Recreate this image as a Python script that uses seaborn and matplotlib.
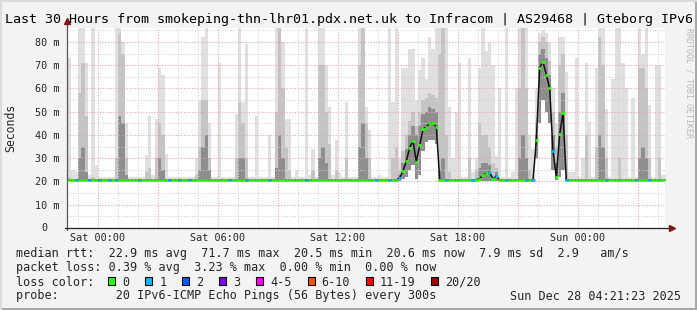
import numpy as np
import pandas as pd
import matplotlib
matplotlib.use("Agg")
import matplotlib.pyplot as plt
import seaborn as sns
from matplotlib.patches import Rectangle
from matplotlib.lines import Line2D

# ---------------- data (10-minute steps, hours relative to Sat 00:00) ----------------
STEP_H = 1 / 6
START_H = -1.5

# median RTT (ms)
median_ms = [
    20.6, 20.6, 20.6, 20.6, 20.6, 20.6,
    20.6, 20.6, 20.6, 20.6, 20.6, 20.6,
    20.6, 20.6, 20.6, 20.6, 20.6, 20.6,
    20.6, 20.6, 20.6, 20.6, 20.6, 20.6,
    20.6, 20.6, 20.6, 20.6, 20.6, 20.6,
    20.6, 20.6, 20.6, 20.6, 20.6, 20.6,
    20.6, 20.6, 20.6, 20.6, 20.6, 20.6,
    20.6, 20.6, 20.6, 20.6, 20.6, 20.6,
    20.6, 20.6, 20.6, 20.6, 20.6, 20.6,
    20.6, 20.6, 20.6, 20.6, 20.6, 20.6,
    20.6, 20.6, 20.6, 20.6, 20.6, 20.6,
    20.6, 20.6, 20.6, 20.6, 20.6, 20.6,
    20.6, 20.6, 20.6, 20.6, 20.6, 20.6,
    20.6, 20.6, 20.6, 20.6, 20.6, 20.6,
    20.6, 20.6, 20.6, 20.6, 20.6, 20.6,
    20.6, 20.6, 20.6, 20.6, 20.6, 20.6,
    20.6, 20.6, 20.6, 21.6, 24.5, 28.8,
    34.5, 37.5, 28.5, 35.5, 42.5, 43.5,
    45.0, 45.0, 43.5, 20.8, 20.6, 20.6,
    20.6, 20.6, 20.6, 20.6, 20.6, 20.6,
    20.6, 20.6, 20.8, 21.2, 22.8, 23.5,
    24.0, 21.0, 22.5, 20.6, 20.6, 20.6,
    20.6, 20.6, 20.6, 20.6, 20.6, 20.6,
    20.6, 20.6, 37.7, 69.0, 71.4, 66.0,
    60.0, 33.0, 22.0, 40.3, 49.4, 20.6,
    20.6, 20.6, 20.6, 20.6, 20.6, 20.6,
    20.6, 20.6, 20.6, 20.6, 20.6, 20.6,
    20.6, 20.6, 20.6, 20.6, 20.6, 20.6,
    20.6, 20.6, 20.6, 20.6, 20.6, 20.6,
    20.6, 20.6, 20.6, 20.6, 20.6, 20.6,
]

# smoke: highest ping (light grey top)
smoke_top = [
    73, 25, 24, 86, 86, 71,
    23, 86, 27, 22, 22, 21.8,
    22, 21.8, 86, 86, 80, 45,
    22, 22, 22, 22, 21.8, 31.5,
    48, 23, 47, 69, 66, 32,
    21.8, 21.8, 21.8, 21.8, 22, 21.8,
    21.8, 21.8, 30, 55, 82, 86,
    45, 21.8, 21.8, 71, 21.8, 21.8,
    21.8, 21.8, 49, 86, 54, 79,
    21.8, 21.8, 48, 21.8, 21.8, 21.8,
    40, 21.8, 86, 86, 80, 47,
    47, 21.8, 25, 21.8, 21.8, 86,
    23, 34, 21.8, 86, 86, 70,
    52, 23, 38, 24, 21.8, 54,
    21.8, 21.8, 21.8, 86, 86, 52,
    42, 21.8, 21.8, 23, 21.8, 21.8,
    86, 54, 86, 30, 69, 69,
    77, 77, 55, 68, 73, 64,
    82, 77, 86, 86, 86, 86,
    52, 30, 50, 71, 22, 22,
    73, 24, 30, 69, 86, 76,
    80, 70, 31, 60, 21.8, 86,
    21.8, 24, 60, 86, 86, 86,
    40, 34, 60, 84, 85, 84,
    80, 60, 45, 82, 82, 67,
    24, 24, 73, 21.8, 30, 71,
    46, 21.8, 69, 86, 86, 51,
    21.8, 64, 86, 86, 71, 60,
    21.8, 56, 21.8, 86, 75, 86,
    53, 21.8, 70, 70, 23, 23,
]

# smoke: middle spread (medium grey top)
smoke_mid = [
    22, 21.2, 21.2, 58, 71, 48,
    21.2, 22, 21.2, 21.2, 21.2, 21.2,
    21.2, 21.2, 30, 84, 75, 30,
    21.2, 21.2, 21.2, 21.2, 21.2, 24,
    26, 21.2, 30, 45, 40, 21.2,
    21.2, 21.2, 21.2, 21.2, 21.2, 21.2,
    21.2, 21.2, 23, 35, 55, 55,
    30, 21.2, 21.2, 21.2, 21.2, 21.2,
    21.2, 21.2, 30, 54, 45, 30,
    21.2, 21.2, 21.2, 21.2, 21.2, 21.2,
    21.2, 21.2, 50, 86, 60, 35,
    25, 21.2, 21.2, 21.2, 21.2, 21.2,
    21.2, 25, 21.2, 70, 70, 50,
    36, 21.2, 25, 21.2, 21.2, 30,
    21.2, 21.2, 21.2, 70, 86, 45,
    30, 21.2, 21.2, 21.2, 21.2, 21.2,
    21.2, 30, 35, 25, 33, 40,
    46, 50, 44, 50, 55, 56,
    58, 57, 56, 75, 86, 40,
    24, 21.2, 21.2, 21.2, 21.2, 21.2,
    30, 21.2, 25, 45, 40, 40,
    35, 28, 26, 21.2, 21.2, 21.2,
    21.2, 21.2, 21.2, 60, 86, 60,
    25, 21.2, 45, 80, 82, 80,
    72, 50, 35, 70, 75, 40,
    21.2, 21.2, 21.2, 21.2, 21.2, 40,
    21.2, 21.2, 35, 82, 70, 30,
    21.2, 21.2, 21.2, 30, 21.2, 21.2,
    21.2, 21.2, 21.2, 69, 69, 60,
    30, 21.2, 21.2, 30, 21.2, 21.2,
]

# smoke: inner spread (dark grey top)
smoke_low = [
    20.9, 20.9, 20.9, 30, 35, 24,
    20.9, 20.9, 20.9, 20.9, 20.9, 20.9,
    20.9, 20.9, 20.9, 48, 45, 23,
    20.9, 20.9, 20.9, 20.9, 20.9, 20.9,
    20.9, 20.9, 20.9, 30, 25, 20.9,
    20.9, 20.9, 20.9, 20.9, 20.9, 20.9,
    20.9, 20.9, 20.9, 25, 35, 40,
    25, 20.9, 20.9, 20.9, 20.9, 20.9,
    20.9, 20.9, 20.9, 30, 30, 20.9,
    20.9, 20.9, 20.9, 20.9, 20.9, 20.9,
    20.9, 20.9, 26, 40, 30, 20.9,
    20.9, 20.9, 20.9, 20.9, 20.9, 20.9,
    20.9, 20.9, 20.9, 30, 35, 28,
    20.9, 20.9, 20.9, 20.9, 20.9, 20.9,
    20.9, 20.9, 20.9, 35, 45, 30,
    20.9, 20.9, 20.9, 20.9, 20.9, 20.9,
    20.9, 20.9, 20.9, 23, 28, 34,
    40, 44, 40, 44, 49, 50,
    52, 51, 50, 25, 30, 20.9,
    20.9, 20.9, 20.9, 20.9, 20.9, 20.9,
    20.9, 20.9, 20.9, 26, 28, 28,
    27, 20.9, 24, 20.9, 20.9, 20.9,
    20.9, 20.9, 20.9, 30, 40, 30,
    20.9, 20.9, 40, 75, 77, 73,
    66, 40, 28, 50, 58, 20.9,
    20.9, 20.9, 20.9, 20.9, 20.9, 20.9,
    20.9, 20.9, 20.9, 40, 35, 20.9,
    20.9, 20.9, 20.9, 20.9, 20.9, 20.9,
    20.9, 20.9, 20.9, 30, 35, 30,
    20.9, 20.9, 20.9, 20.9, 20.9, 20.9,
]

# smoke: lowest ping
smoke_bot = [
    20.3, 20.3, 20.3, 20.3, 20.3, 20.3,
    20.3, 20.3, 20.3, 20.3, 20.3, 20.3,
    20.3, 20.3, 20.3, 20.3, 20.3, 20.3,
    20.3, 20.3, 20.3, 20.3, 20.3, 20.3,
    20.3, 20.3, 20.3, 20.3, 20.3, 20.3,
    20.3, 20.3, 20.3, 20.3, 20.3, 20.3,
    20.3, 20.3, 20.3, 20.3, 20.3, 20.3,
    20.3, 20.3, 20.3, 20.3, 20.3, 20.3,
    20.3, 20.3, 20.3, 20.3, 20.3, 20.3,
    20.3, 20.3, 20.3, 20.3, 20.3, 20.3,
    20.3, 20.3, 20.3, 20.3, 20.3, 20.3,
    20.3, 20.3, 20.3, 20.3, 20.3, 20.3,
    20.3, 20.3, 20.3, 20.3, 20.3, 20.3,
    20.3, 20.3, 20.3, 20.3, 20.3, 20.3,
    20.3, 20.3, 20.3, 20.3, 20.3, 20.3,
    20.3, 20.3, 20.3, 20.3, 20.3, 20.3,
    20.3, 20.3, 20.3, 20.3, 21, 22,
    25, 27, 21, 23, 33, 37,
    38, 38, 36, 20.3, 20.3, 20.3,
    20.3, 20.3, 20.3, 20.3, 20.3, 20.3,
    20.3, 20.3, 20.3, 20.3, 20.3, 20.3,
    20.3, 20.3, 20.3, 20.3, 20.3, 20.3,
    20.3, 20.3, 20.3, 20.3, 20.3, 20.3,
    20.3, 20.3, 30, 45, 55, 50,
    45, 25, 20.5, 22, 25, 20.3,
    20.3, 20.3, 20.3, 20.3, 20.3, 20.3,
    20.3, 20.3, 20.3, 20.3, 20.3, 20.3,
    20.3, 20.3, 20.3, 20.3, 20.3, 20.3,
    20.3, 20.3, 20.3, 20.3, 20.3, 20.3,
    20.3, 20.3, 20.3, 20.3, 20.3, 20.3,
]

# lost pings per step (out of 20)
loss_count = [
    0, 0, 1, 0, 0, 0,
    1, 0, 0, 1, 0, 0,
    1, 0, 1, 0, 0, 0,
    0, 0, 0, 1, 0, 0,
    0, 0, 0, 0, 0, 0,
    1, 0, 0, 1, 0, 0,
    1, 0, 0, 0, 0, 0,
    0, 0, 0, 0, 0, 0,
    1, 0, 0, 0, 0, 1,
    0, 0, 0, 0, 0, 0,
    1, 0, 0, 0, 0, 0,
    0, 0, 0, 0, 0, 1,
    0, 0, 0, 0, 0, 0,
    0, 0, 0, 0, 0, 0,
    0, 0, 0, 0, 0, 0,
    0, 0, 1, 0, 0, 0,
    1, 0, 0, 1, 0, 0,
    0, 0, 0, 0, 0, 0,
    0, 0, 0, 0, 0, 1,
    0, 0, 0, 0, 0, 0,
    0, 1, 0, 0, 0, 0,
    1, 0, 1, 0, 0, 1,
    0, 0, 0, 0, 0, 1,
    0, 1, 0, 0, 0, 0,
    0, 1, 0, 0, 0, 1,
    0, 0, 0, 0, 0, 0,
    0, 0, 0, 0, 0, 1,
    0, 0, 0, 0, 0, 0,
    0, 0, 1, 0, 0, 0,
    1, 0, 0, 0, 0, 0,
]

x_tick_hours = [0, 6, 12, 18, 24]
x_tick_labels = ["Sat 00:00", "Sat 06:00", "Sat 12:00", "Sat 18:00", "Sun 00:00"]
y_tick_values = [10, 20, 30, 40, 50, 60, 70, 80]
y_tick_labels = ["10 m", "20 m", "30 m", "40 m", "50 m", "60 m", "70 m", "80 m"]

loss_labels = ["0", "1", "2", "3", "4-5", "6-10", "11-19", "20/20"]
loss_colors = ["#26ff00", "#00b8ff", "#0059ff", "#7e00ff", "#ff00ff", "#ff5500", "#ff0000", "#a10000"]

title = "Last 30 Hours from smokeping-thn-lhr01.pdx.net.uk to Infracom | AS29468 | Gteborg IPv6"
line_rtt = "median rtt:  22.9 ms avg  71.7 ms max  20.5 ms min  20.6 ms now  7.9 ms sd  2.9   am/s"
line_loss = "packet loss: 0.39 % avg  3.23 % max  0.00 % min  0.00 % now"
line_probe = "probe:        20 IPv6-ICMP Echo Pings (56 Bytes) every 300s"
stamp = "Sun Dec 28 04:21:23 2025"

# ---------------- figure ----------------
sns.set_style("white")
plt.rcParams["font.family"] = ["DejaVu Sans Mono", "DejaVu Sans"]

W, H = 697, 310
fig = plt.figure(figsize=(W / 100, H / 100), dpi=100, facecolor="#f3f3f3")


def fx(px):
    return px / W


def fy(py):
    return 1 - py / H


ax = fig.add_axes([fx(67), fy(228), 598 / W, 200 / H])
ax.set_facecolor("white")
ax.set_xlim(-1.55, 28.35)
ax.set_ylim(0, 86)

n = len(median_ms)
t_left = START_H + np.arange(n) * STEP_H
t_edges = np.append(t_left, t_left[-1] + STEP_H)


def ext(a):
    a = np.asarray(a, dtype=float)
    return np.append(a, a[-1])


ax.fill_between(t_edges, ext(smoke_bot), ext(smoke_top), step="post", color="#e0e0e0", lw=0, zorder=1)
ax.fill_between(t_edges, ext(smoke_bot), ext(smoke_mid), step="post", color="#c4c4c4", lw=0, zorder=1.1)
ax.fill_between(t_edges, ext(smoke_bot), ext(smoke_low), step="post", color="#8e8e8e", lw=0, zorder=1.2)

# grid
grid_gray = "#d2d2d2"
grid_red = "#f0a0a0"
for h in range(-1, 29):
    ax.axvline(h, color=grid_red if h % 3 == 0 else grid_gray, lw=0.75,
               ls=(0, (1, 1.6)), zorder=2)
for v in range(5, 90, 5):
    ax.axhline(v, color=grid_red if v % 10 == 0 else grid_gray, lw=0.75,
               ls=(0, (1, 1.6)), zorder=2)

# median line
df = pd.DataFrame({"t": t_left + STEP_H / 2, "median": median_ms})
sns.lineplot(data=df, x="t", y="median", color="#111111", lw=1.1, ax=ax,
             zorder=3, legend=False, estimator=None, sort=False)


def loss_color(c):
    if c <= 3:
        return loss_colors[c]
    if c <= 5:
        return loss_colors[4]
    if c <= 10:
        return loss_colors[5]
    if c <= 19:
        return loss_colors[6]
    return loss_colors[7]


ax.hlines(median_ms, t_left, t_left + STEP_H, colors=[loss_color(c) for c in loss_count],
          lw=2.0, zorder=4)

# axes decoration
for s in ["top", "right", "left", "bottom"]:
    ax.spines[s].set_visible(False)
ax.set_xlabel("")
ax.set_ylabel("")
ax.set_xticks(x_tick_hours)
ax.set_xticklabels(x_tick_labels)
ax.set_yticks(y_tick_values)
ax.set_yticklabels(y_tick_labels)
ax.tick_params(axis="x", length=2, width=0.6, color="#444444", labelsize=7.3, pad=1.5, direction="out")
ax.tick_params(axis="y", length=2, width=0.6, color="#444444", labelsize=7.3, pad=3.3, direction="out")
ax.annotate("0", xy=(0, 0), xycoords="axes fraction", xytext=(-14.0, 0), textcoords="offset points",
            ha="right", va="center", fontsize=7.3)

ax.add_line(Line2D([0, 0], [-0.01, 1.03], transform=ax.transAxes, color="#555555", lw=0.9, clip_on=False, zorder=6))
ax.add_line(Line2D([-0.003, 1.01], [0, 0], transform=ax.transAxes, color="#222222", lw=0.9, clip_on=False, zorder=6))
ax.plot([0], [1.035], marker="^", ms=4, color="#7f1515", transform=ax.transAxes, clip_on=False, zorder=7)
ax.plot([1.011], [0], marker=">", ms=4, color="#7f1515", transform=ax.transAxes, clip_on=False, zorder=7)

# texts
fig.text(fx(349), fy(23), title, ha="center", va="baseline", fontsize=9.6, color="#000000")
fig.text(fx(10.5), fy(127.5), "Seconds", rotation=90, ha="center", va="center", fontsize=8.3)
fig.text(fx(689), fy(28), "RRDTOOL / TOBI OETIKER", rotation=270, ha="center", va="top",
         fontsize=6, color="#b9b9b9")

fig.text(fx(16), fy(257.5), line_rtt, ha="left", va="baseline", fontsize=8.5)
fig.text(fx(16), fy(271.5), line_loss, ha="left", va="baseline", fontsize=8.5)
fig.text(fx(16), fy(285.5), "loss color:", ha="left", va="baseline", fontsize=8.5)
fig.text(fx(16), fy(299.5), line_probe, ha="left", va="baseline", fontsize=8.5)
fig.text(fx(681), fy(299.5), stamp, ha="right", va="baseline", fontsize=8.5)

xpos = 108.3
for lab, col in zip(loss_labels, loss_colors):
    fig.patches.append(Rectangle((fx(xpos), fy(285)), 7 / W, 8 / H, transform=fig.transFigure,
                                 facecolor=col, edgecolor="black", lw=0.8))
    fig.text(fx(xpos + 14), fy(285.5), lab, ha="left", va="baseline", fontsize=8.5)
    xpos += 29.9 + 7.1 * len(lab)

# frame of the image
fig.patches.append(Rectangle((0, 0), 1, 2 / H, transform=fig.transFigure, facecolor="#a8a8a8", lw=0))
fig.patches.append(Rectangle((1 - 2 / W, 0), 2 / W, 1, transform=fig.transFigure, facecolor="#a8a8a8", lw=0))
fig.patches.append(Rectangle((0, 1 - 2 / H), 1, 2 / H, transform=fig.transFigure, facecolor="#dcdcdc", lw=0))
fig.patches.append(Rectangle((0, 0), 2 / W, 1, transform=fig.transFigure, facecolor="#dcdcdc", lw=0))

fig.savefig("out.png", dpi=100, facecolor=fig.get_facecolor())
